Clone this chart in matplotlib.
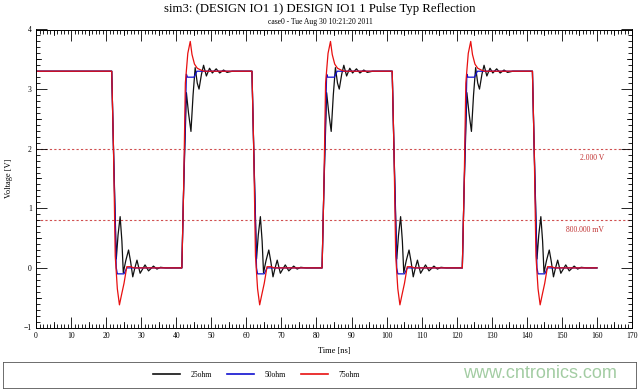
import numpy as np
import matplotlib
matplotlib.use('Agg')
import matplotlib.pyplot as plt
import matplotlib.transforms as mtransforms
from matplotlib.ticker import MultipleLocator

# edge times (ns) where the driver switches
falls = [21.6, 61.6, 101.6, 141.6]
rises = [41.6, 81.6, 121.6]
t_end = 160.0
v_high = 3.3
v_low = 0.0

# falling edge response, times relative to edge start
fall_25_t = [0.0, 0.5, 1.3, 1.8, 2.4, 2.9, 3.3, 4.0, 4.8, 5.4, 6.0, 6.6, 7.2, 8.1, 8.8, 9.5, 10.5, 11.9, 12.9, 13.9, 15.4]
fall_25_v = [3.3, 2.0, 0.15, 0.55, 0.86, 0.45, -0.08, 0.12, 0.30, 0.10, -0.15, 0.0, 0.13, -0.09, -0.02, 0.05, -0.05, 0.03, -0.02, 0.01, 0.0]
fall_50_t = [0.0, 0.5, 1.3, 1.6, 3.5, 4.3]
fall_50_v = [3.3, 2.0, 0.0, -0.1, -0.1, 0.0]
fall_75_t = [0.0, 0.5, 1.0, 1.6, 2.2, 2.8, 3.5, 4.3, 5.4, 6.4]
fall_75_v = [3.3, 2.0, 0.2, -0.35, -0.62, -0.45, -0.26, 0.02, 0.02, 0.0]

# rising edge response, times relative to edge start
rise_25_t = [0.0, 0.5, 1.3, 1.9, 2.6, 3.2, 3.8, 4.4, 4.9, 5.6, 6.2, 7.0, 7.9, 8.7, 9.8, 10.8, 11.9, 12.9, 14.4]
rise_25_v = [0.0, 1.3, 2.94, 2.6, 2.29, 2.9, 3.36, 3.1, 3.0, 3.25, 3.40, 3.22, 3.35, 3.27, 3.34, 3.27, 3.32, 3.28, 3.3]
rise_50_t = [0.0, 0.5, 1.3, 1.6, 3.5, 4.3]
rise_50_v = [0.0, 1.3, 3.25, 3.2, 3.2, 3.3]
rise_75_t = [0.0, 0.5, 1.0, 1.7, 2.4, 2.9, 3.6, 4.4, 5.4, 6.4]
rise_75_v = [0.0, 1.3, 3.1, 3.6, 3.8, 3.58, 3.42, 3.35, 3.32, 3.3]

names = ['25ohm', '50ohm', '75ohm']
colors = ['#111111', '#1010d0', '#e81010']

ref_levels = [2.0, 0.8]
ref_labels = ['2.000 V', '800.000 mV']


def build(ft, fv, rt, rv):
    t = [0.0]
    v = [v_high]
    edges = sorted([(e, 'f') for e in falls] + [(e, 'r') for e in rises])
    for e, kind in edges:
        dt, dv = (ft, fv) if kind == 'f' else (rt, rv)
        t += [e + x for x in dt]
        v += list(dv)
    t.append(t_end)
    v.append(v[-1])
    return np.array(t), np.array(v)


series = [build(fall_25_t, fall_25_v, rise_25_t, rise_25_v),
          build(fall_50_t, fall_50_v, rise_50_t, rise_50_v),
          build(fall_75_t, fall_75_v, rise_75_t, rise_75_v)]

plt.rcParams['font.family'] = ['Liberation Serif', 'DejaVu Serif']

fig = plt.figure(figsize=(6.4, 3.91), dpi=100)
ax = fig.add_axes([36 / 640, 1 - 327.5 / 391, 596 / 640, 298 / 391])

lines = []
for (t, v), name, c in zip(series, names, colors):
    ln, = ax.plot(t, v, color=c, lw=0.9, label=name)
    lines.append(ln)

for lev, lab in zip(ref_levels, ref_labels):
    ax.axhline(lev, color='#d05050', lw=0.8, ls=(0, (2, 2)), zorder=0)
    ax.annotate(lab, xy=(162, lev), xytext=(0, -7), textcoords='offset points',
                ha='right', va='center', fontsize=5.5, color='#c03030')

ax.set_xlim(0, 170)
ax.set_ylim(-1, 4)
ax.xaxis.set_major_locator(MultipleLocator(10))
ax.xaxis.set_minor_locator(MultipleLocator(1))
ax.yaxis.set_major_locator(MultipleLocator(1))
ax.yaxis.set_minor_locator(MultipleLocator(0.1))
ax.tick_params(which='both', direction='in', top=True, right=True, labelsize=5.5, width=0.6, pad=3)
ax.tick_params(which='major', length=8)
ax.tick_params(which='minor', length=3)
for s in ax.spines.values():
    s.set_linewidth(0.7)

# medium ticks at the half divisions
tb = mtransforms.blended_transform_factory(ax.transData, ax.transAxes)
for x in np.arange(5, 170, 10):
    ax.plot([x, x], [0, 0.018], transform=tb, color='k', lw=0.6, clip_on=False)
    ax.plot([x, x], [1, 0.982], transform=tb, color='k', lw=0.6, clip_on=False)
tl = mtransforms.blended_transform_factory(ax.transAxes, ax.transData)
for y in np.arange(-0.5, 4, 1):
    ax.plot([0, 0.009], [y, y], transform=tl, color='k', lw=0.6, clip_on=False)
    ax.plot([1, 0.991], [y, y], transform=tl, color='k', lw=0.6, clip_on=False)

ax.set_xlabel('Time [ns]', fontsize=6, labelpad=5)
ax.set_ylabel('Voltage [V]', fontsize=6, labelpad=8)
fig.text(0.5, 1 - 9 / 391, 'sim3: (DESIGN IO1 1) DESIGN IO1 1 Pulse Typ Reflection',
         ha='center', va='center', fontsize=9.2)
fig.text(0.5, 1 - 22 / 391, 'case0 - Tue Aug 30 10:21:20 2011',
         ha='center', va='center', fontsize=5.5)

# legend box
lax = fig.add_axes([3 / 640, 3 / 391, 633 / 640, 26 / 391])
lax.set_xticks([])
lax.set_yticks([])
for s in lax.spines.values():
    s.set_linewidth(0.6)
    s.set_color('#555555')
lax.legend(lines, names, loc='center', bbox_to_anchor=(0.40, 0.5), ncol=3, frameon=False,
           fontsize=5.5, handlelength=3.6, handletextpad=1.3, columnspacing=2.0)
for h in lax.get_legend().get_lines():
    h.set_linewidth(1.2)

fig.text(540 / 640, 1 - 374 / 391, 'www.cntronics.com', ha='center', va='center',
         fontsize=13, color='#8cc08c', alpha=0.8, family=['Liberation Sans', 'DejaVu Sans'])

fig.savefig('out.png', dpi=100)
